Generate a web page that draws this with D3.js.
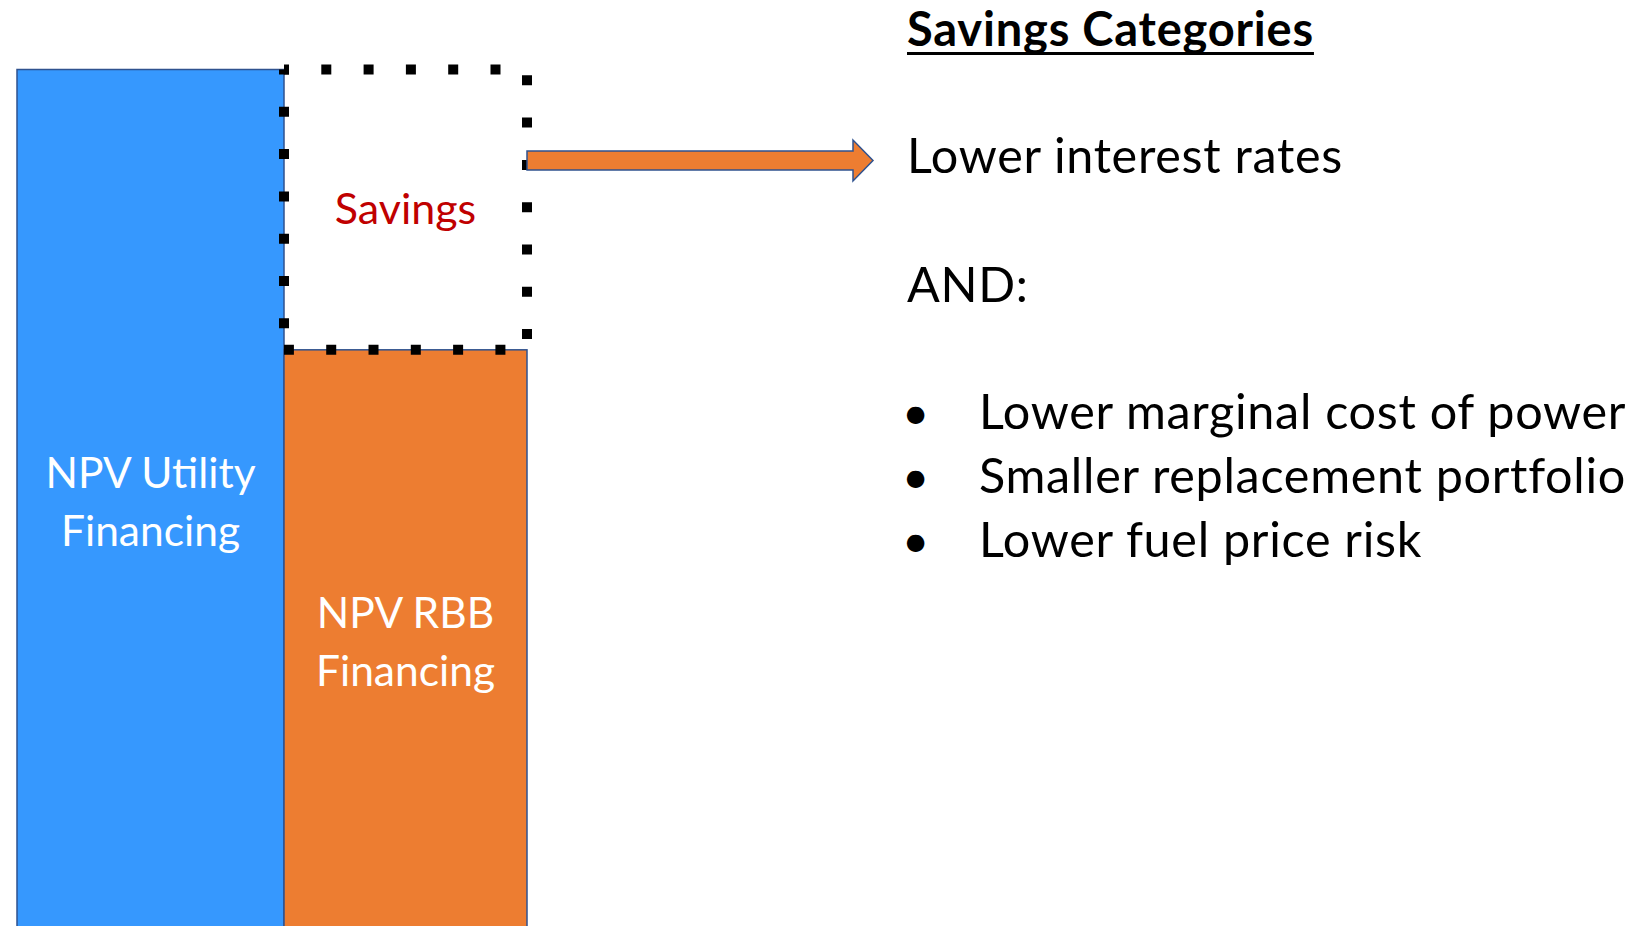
<!DOCTYPE html>
<html lang="en">
<head>
    <meta charset="UTF-8">
    <title>NPV Savings</title>
    <script src="https://d3js.org/d3.v7.min.js"></script>
    <style>
        body { margin: 0; background: #fff; }
        svg { display: block; font-family: Lato, "Open Sans", sans-serif; }
    </style>
</head>
<body>
    <svg width="1650" height="926"></svg>
    <script>
        // data
        const categories = ['NPV Utility Financing', 'NPV RBB Financing'];
        const npvValues = [100, 67.5];
        const barLabels = [['NPV Utility', 'Financing'], ['NPV RBB', 'Financing']];
        const savingsLabel = 'Savings';
        const panelTitle = 'Savings Categories';
        const headline = 'Lower interest rates';
        const connector = 'AND:';
        const bulletItems = ['Lower marginal cost of power', 'Smaller replacement portfolio', 'Lower fuel price risk'];

        const svg = d3.select('svg');
        const border = '#2F528F';
        const colors = ['#3698FE', '#ED7D31'];

        // piecewise x: category i spans x(i) .. x(i + 1)
        const x = d3.scaleLinear().domain([0, 1, 2]).range([17, 284, 527]);
        const y = d3.scaleLinear().domain([0, 100]).range([932, 69.5]);

        const bars = svg.append('g');
        bars.selectAll('rect')
            .data(categories)
            .join('rect')
            .attr('x', (d, i) => x(i))
            .attr('width', (d, i) => x(i + 1) - x(i))
            .attr('y', (d, i) => y(npvValues[i]))
            .attr('height', (d, i) => y(0) - y(npvValues[i]))
            .attr('fill', (d, i) => colors[i])
            .attr('stroke', border)
            .attr('stroke-width', 1.5);

        bars.selectAll('text')
            .data(categories)
            .join('text')
            .attr('text-anchor', 'middle')
            .attr('fill', '#fff')
            .attr('font-size', 42.5)
            .each(function (d, i) {
                const cx = (x(i) + x(i + 1)) / 2;
                const cy = (y(npvValues[i]) + y(0)) / 2;
                d3.select(this).selectAll('tspan')
                    .data(barLabels[i])
                    .join('tspan')
                    .attr('x', cx)
                    .attr('y', (t, j) => cy - 12.5 + j * 58)
                    .text(t => t);
            });

        // savings box = gap between the two NPVs
        const sTop = y(npvValues[0]), sBot = y(npvValues[1]);
        const sL = x(1), sR = x(2);
        const dotted = sel => sel
            .attr('fill', 'none')
            .attr('stroke', '#000')
            .attr('stroke-width', 10)
            .attr('stroke-dasharray', '10 32.3')
            .attr('stroke-dashoffset', 5);
        svg.append('path')
            .attr('d', `M${sL},${sTop}H${sR}V${sBot}H${sL}`)
            .call(dotted);
        svg.append('path')
            .attr('d', `M${sL},${sTop}V${sBot - 8}`)
            .call(dotted);

        svg.append('text')
            .attr('x', (sL + sR) / 2)
            .attr('y', (sTop + sBot) / 2 + 14.5)
            .attr('text-anchor', 'middle')
            .attr('fill', '#C00000')
            .attr('font-size', 43)
            .text(savingsLabel);

        // right panel
        const tx = 907;
        const title = svg.append('text')
            .attr('x', tx).attr('y', 45.5)
            .attr('font-size', 47)
            .attr('font-weight', 700)
            .attr('letter-spacing', 0.8)
            .text(panelTitle);
        const tw = title.node().getComputedTextLength();
        svg.append('rect')
            .attr('x', tx).attr('y', 52)
            .attr('width', tw).attr('height', 3)
            .attr('fill', '#000');

        const bodyText = sel => sel
            .attr('font-size', 48.5)
            .attr('letter-spacing', 0.7)
            .attr('fill', '#000');

        const hy = 173;
        svg.append('text')
            .attr('x', tx).attr('y', hy)
            .call(bodyText)
            .text(headline);

        // arrow from savings box to the headline
        const ay = hy - 12.5, aLen = 346, shaft = 9.5, head = 20.5, headLen = 20;
        const ax = sR;
        svg.append('path')
            .attr('d', `M${ax},${ay - shaft}H${ax + aLen - headLen}V${ay - head}L${ax + aLen},${ay}L${ax + aLen - headLen},${ay + head}V${ay + shaft}H${ax}Z`)
            .attr('fill', '#ED7D31')
            .attr('stroke', border)
            .attr('stroke-width', 1.5);

        svg.append('text')
            .attr('x', tx).attr('y', 302)
            .call(bodyText)
            .text(connector);

        const items = svg.append('g').selectAll('g')
            .data(bulletItems)
            .join('g')
            .attr('transform', (d, i) => `translate(0,${429 + i * 64})`);
        items.append('text')
            .attr('x', 902)
            .attr('font-size', 47)
            .text('•');
        items.append('text')
            .attr('x', 979)
            .call(bodyText)
            .text(d => d);
    </script>
</body>
</html>
